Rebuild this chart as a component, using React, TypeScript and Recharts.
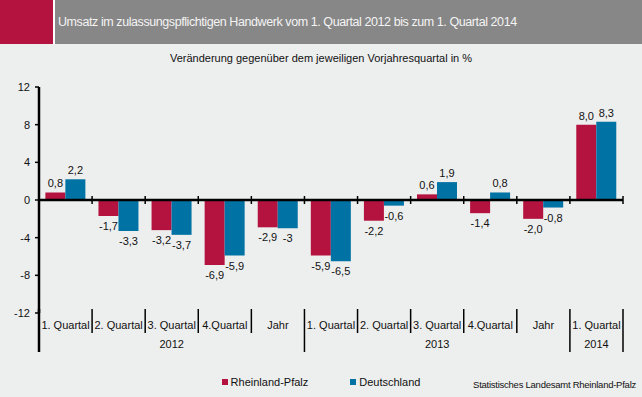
import React from 'react';
import { BarChart, Bar, XAxis, YAxis, ReferenceLine, LabelList } from 'recharts';

const quarters = ['1. Quartal', '2. Quartal', '3. Quartal', '4.Quartal', 'Jahr', '1. Quartal', '2. Quartal', '3. Quartal', '4.Quartal', 'Jahr', '1. Quartal'];
const years = ['2012', '2012', '2012', '2012', '2012', '2013', '2013', '2013', '2013', '2013', '2014'];
const rheinlandPfalz = [0.8, -1.7, -3.2, -6.9, -2.9, -5.9, -2.2, 0.6, -1.4, -2.0, 8.0];
const deutschland = [2.2, -3.3, -3.7, -5.9, -3.0, -6.5, -0.6, 1.9, 0.8, -0.8, 8.3];
const rpLabels = ['0,8', '-1,7', '-3,2', '-6,9', '-2,9', '-5,9', '-2,2', '0,6', '-1,4', '-2,0', '8,0'];
const deLabels = ['2,2', '-3,3', '-3,7', '-5,9', '-3', '-6,5', '-0,6', '1,9', '0,8', '-0,8', '8,3'];
const yTicks = [-12, -8, -4, 0, 4, 8, 12];

const RED = '#B5133F';
const BLUE = '#0072A3';
const FONT = '"Liberation Sans", Arial, sans-serif';

const data = quarters.map((q, i) => ({
  name: q,
  year: years[i],
  rp: rheinlandPfalz[i],
  de: deutschland[i],
}));

const makeLabel = (labels: string[]) => (props: any) => {
  const { x, y, width, height, value, index } = props;
  const top = Math.min(y, y + height);
  const bottom = Math.max(y, y + height);
  const ty = value >= 0 ? top - 5 : bottom + 14;
  return (
    <text x={x + width / 2} y={ty} textAnchor="middle" fontSize={11} fontFamily={FONT} fill="#111">
      {labels[index]}
    </text>
  );
};

function CategoryTick(props: any) {
  const { x, y, payload } = props;
  const i = payload.index;
  const half = payload.offset || 584 / quarters.length / 2;
  const left = x - half;
  const groupStart = i === 0 || years[i] !== years[i - 1];
  const isLast = i === quarters.length - 1;
  const first = years.indexOf(years[i]);
  const last = years.lastIndexOf(years[i]);
  const isMiddle = i === Math.floor((first + last) / 2);
  return (
    <g>
      <line x1={left} x2={left} y1={y - 4} y2={groupStart ? y + 39 : y + 20} stroke="#000" strokeWidth={i === 0 ? 2.5 : 1.5} />
      {isLast && <line x1={x + half} x2={x + half} y1={y - 4} y2={y + 39} stroke="#000" strokeWidth={1.5} />}
      <text x={x} y={y + 16} textAnchor="middle" fontSize={11} fontFamily={FONT} fill="#111">
        {payload.value}
      </text>
      {isMiddle && (
        <text x={x} y={y + 35} textAnchor="middle" fontSize={11} fontFamily={FONT} fill="#111">
          {years[i]}
        </text>
      )}
    </g>
  );
}

function ZeroLine(props: any) {
  const { x1, x2, y1 } = props;
  const n = quarters.length;
  const step = (x2 - x1) / n;
  return (
    <g>
      <line x1={x1} x2={x2} y1={y1} y2={y1} stroke="#000" strokeWidth={2.5} />
      {quarters.map((_, k) => (
        <line key={k} x1={x1 + step * (k + 1)} x2={x1 + step * (k + 1)} y1={y1 - 4} y2={y1 + 4} stroke="#000" strokeWidth={1.5} />
      ))}
    </g>
  );
}

function LegendBox() {
  const items = [
    { name: 'Rheinland-Pfalz', color: RED },
    { name: 'Deutschland', color: BLUE },
  ];
  return (
    <div style={{ position: 'absolute', left: 0, top: 376, width: 642, display: 'flex', justifyContent: 'center', gap: 42, fontFamily: FONT, fontSize: 11, color: '#111' }}>
      {items.map((it) => (
        <div key={it.name} style={{ display: 'flex', alignItems: 'center' }}>
          <span style={{ width: 6, height: 6, background: it.color, marginRight: 3, display: 'inline-block' }} />
          {it.name}
        </div>
      ))}
    </div>
  );
}

export default function App() {
  return (
    <div style={{ position: 'absolute', left: 0, top: 0, width: 642, height: 397, background: '#EDEEEE', overflow: 'hidden' }}>
      <div style={{ position: 'absolute', left: 0, top: 0, width: 53, height: 44, background: '#B5133F' }} />
      <div style={{ position: 'absolute', left: 53, top: 0, width: 2, height: 44, background: '#FFFFFF' }} />
      <div
        style={{
          position: 'absolute', left: 55, top: 0, width: 587, height: 44, background: '#878787',
          color: '#F4F4F4', fontFamily: FONT, fontSize: 12.5, lineHeight: '44px', paddingLeft: 3, letterSpacing: -0.42,
        }}
      >
        Umsatz im zulassungspflichtigen Handwerk vom 1. Quartal 2012 bis zum 1. Quartal 2014
      </div>
      <div style={{ position: 'absolute', left: 0, top: 52, width: 642, textAlign: 'center', fontFamily: FONT, fontSize: 11, color: '#111' }}>
        Veränderung gegenüber dem jeweiligen Vorjahresquartal in %
      </div>
      <div style={{ position: 'absolute', left: 0, top: 0 }}>
        <BarChart width={642} height={397} data={data} margin={{ top: 87, right: 19, bottom: 44, left: 9 }} barGap={0} barCategoryGap="12%">
          <XAxis dataKey="name" axisLine={false} tickLine={false} tickSize={0} tickMargin={0} height={40} interval={0} tick={<CategoryTick />} />
          <YAxis
            domain={[-12, 12]}
            ticks={yTicks}
            width={30}
            axisLine={{ stroke: '#000', strokeWidth: 2.5 }}
            tickLine={{ stroke: '#000', strokeWidth: 1.5 }}
            tickSize={4}
            tickMargin={5}
            tick={{ fontSize: 11, fontFamily: FONT, fill: '#111' }}
          />
          <Bar dataKey="rp" name="Rheinland-Pfalz" fill={RED} isAnimationActive={false}>
            <LabelList dataKey="rp" content={makeLabel(rpLabels)} />
          </Bar>
          <Bar dataKey="de" name="Deutschland" fill={BLUE} isAnimationActive={false}>
            <LabelList dataKey="de" content={makeLabel(deLabels)} />
          </Bar>
          <ReferenceLine y={0} shape={<ZeroLine />} />
        </BarChart>
      </div>
      <LegendBox />
      <div style={{ position: 'absolute', right: 6, top: 379, fontFamily: FONT, fontSize: 9.5, color: '#111', letterSpacing: -0.25 }}>
        Statistisches Landesamt Rheinland-Pfalz
      </div>
    </div>
  );
}
